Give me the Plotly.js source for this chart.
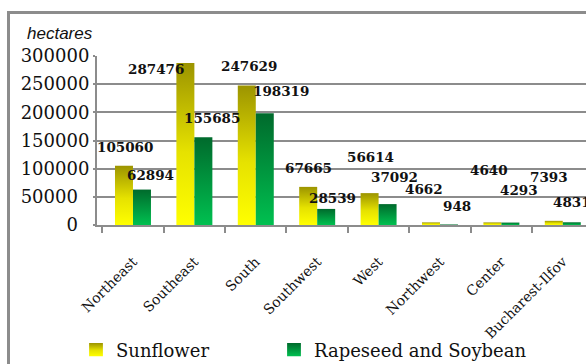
<!DOCTYPE html>
<html>
<head>
<meta charset="utf-8">
<script src="https://cdn.plot.ly/plotly-3.0.1.min.js"></script>
<style>
html,body{margin:0;padding:0;overflow:hidden;background:#fff;}
#wrap{position:relative;width:586px;height:364px;overflow:hidden;}
#chart{position:absolute;left:0;top:0;width:586px;height:364px;}
#frame{position:absolute;left:7px;top:11px;width:700px;height:500px;border:3px solid #8c8c8c;pointer-events:none;}
</style>
</head>
<body>
<div id="wrap"><div id="chart"></div><div id="frame"></div></div>
<script>
// ---- data ----
var regions = ["Northeast","Southeast","South","Southwest","West","Northwest","Center","Bucharest-Ilfov"];
var sunflower = [105060, 287476, 247629, 67665, 56614, 4662, 4640, 7393];
var rapeseedSoybean = [62894, 155685, 198319, 28539, 37092, 948, 4293, 4831];
var yTickVals = [0, 50000, 100000, 150000, 200000, 250000, 300000];
var yTickText = ["0\u2007","50000\u2007","100000","150000","200000","250000","300000"];

// ---- value-label placement offsets (px) ----
var sunLabelDX = [1.5, -29, 2, 0, 1, -7, -3, -5];
var sunLabelDY = [19, -6, 20, 19, 36, 33, 52, 44];
var rapLabelDX = [9, 9, 16, 6, 7, 7.6, 9, 0];
var rapLabelDY = [15, 19, 22, 11, 27.5, 18, 33, 20];

var W = 586, H = 364, ML = 97, MR = 0, MT = 56, MB = 139;
var plotW = W - ML - MR, plotH = H - MT - MB;
function pxX(px){ return (px - ML) / plotW; }
function pxY(py){ return (H - MB - py) / plotH; }

var gray = '#8c8c8c';
var halfBar = 9;
var valFont = {family: 'DejaVu Serif', size: 13.5, color: '#111', weight: 'bold'};

var annotations = [];
regions.forEach(function(r, i){
  annotations.push({x: r, y: sunflower[i], xref: 'x', yref: 'y', text: String(sunflower[i]),
    showarrow: false, xanchor: 'center', yanchor: 'middle',
    xshift: -halfBar + sunLabelDX[i], yshift: sunLabelDY[i], font: valFont});
  annotations.push({x: r, y: rapeseedSoybean[i], xref: 'x', yref: 'y', text: String(rapeseedSoybean[i]),
    showarrow: false, xanchor: 'center', yanchor: 'middle',
    xshift: halfBar + rapLabelDX[i], yshift: rapLabelDY[i], font: valFont});
});
annotations.push({x: pxX(60), y: pxY(33), xref: 'paper', yref: 'paper', text: 'hectares',
  showarrow: false, xanchor: 'center', yanchor: 'middle',
  font: {family: 'Liberation Sans', size: 17, color: '#111', style: 'italic'}});

var data = [
  {type: 'bar', name: 'Sunflower', x: regions, y: sunflower, legend: 'legend',
   marker: {color: '#d8d400', line: {width: 0}}, hoverinfo: 'none'},
  {type: 'bar', name: 'Rapeseed and Soybean', x: regions, y: rapeseedSoybean, legend: 'legend2',
   marker: {color: '#009040', line: {width: 0}}, hoverinfo: 'none'}
];

var legFont = {family: 'DejaVu Serif', size: 18, color: '#111'};
var layout = {
  width: W, height: H,
  margin: {l: ML, r: MR, t: MT, b: MB, pad: 0, autoexpand: false},
  paper_bgcolor: 'rgba(0,0,0,0)', plot_bgcolor: 'rgba(0,0,0,0)',
  barmode: 'group', bargap: 0.414, bargroupgap: 0,
  showlegend: true,
  legend: {orientation: 'h', x: pxX(76), y: pxY(350), xanchor: 'left', yanchor: 'middle',
    font: legFont, bgcolor: 'rgba(0,0,0,0)', borderwidth: 0},
  legend2: {orientation: 'h', x: pxX(274), y: pxY(350), xanchor: 'left', yanchor: 'middle',
    font: legFont, bgcolor: 'rgba(0,0,0,0)', borderwidth: 0},
  xaxis: {type: 'category', range: [-0.586, 7.378], automargin: false,
    tickangle: -45, ticklabelstandoff: 21,
    tickfont: {family: 'DejaVu Serif', size: 14, color: '#111'},
    ticks: 'outside', tickson: 'boundaries', ticklen: 6, tickwidth: 2, tickcolor: gray,
    showline: true, linecolor: gray, linewidth: 2, showgrid: false, zeroline: false, fixedrange: true},
  yaxis: {range: [0, 300000], tickmode: 'array', tickvals: yTickVals, ticktext: yTickText,
    ticks: 'outside', ticklen: 2, tickwidth: 2, tickcolor: gray, automargin: false,
    showline: true, linecolor: gray, linewidth: 2,
    showgrid: true, gridcolor: gray, gridwidth: 2, zeroline: false,
    tickfont: {family: 'DejaVu Serif', size: 18, color: '#111'}, fixedrange: true},
  annotations: annotations
};

var gd = document.getElementById('chart');
Plotly.newPlot(gd, data, layout, {staticPlot: true, displayModeBar: false}).then(function(){
  var ns = 'http://www.w3.org/2000/svg';
  var svg = gd.querySelector('svg.main-svg');
  var defs = svg.querySelector('defs');
  function grad(id, stops){
    var g = document.createElementNS(ns, 'linearGradient');
    g.setAttribute('id', id);
    g.setAttribute('x1', '0'); g.setAttribute('y1', '0');
    g.setAttribute('x2', '0'); g.setAttribute('y2', '1');
    stops.forEach(function(s){
      var st = document.createElementNS(ns, 'stop');
      st.setAttribute('offset', s[0]); st.setAttribute('stop-color', s[1]);
      g.appendChild(st);
    });
    defs.appendChild(g);
  }
  grad('gSun', [[0, '#9c9400'], [0.55, '#e6e200'], [1, '#ffff00']]);
  grad('gRap', [[0, '#006a2c'], [1, '#00c050']]);
  var fills = ['url(#gSun)', 'url(#gRap)'];
  gd.querySelectorAll('.barlayer .trace').forEach(function(t, i){
    t.querySelectorAll('path').forEach(function(p){ p.style.fill = fills[i]; });
  });
  gd.querySelectorAll('.infolayer .traces').forEach(function(t){
    var d = t.__data__;
    var idx = (d && d[0] && d[0].trace) ? d[0].trace.index : 0;
    t.querySelectorAll('.legendpoints path').forEach(function(p){
      p.style.fill = fills[idx];
      var old = p.getAttribute('transform') || '';
      p.setAttribute('transform', old + ' scale(1.15,1.1)');
    });
  });
});
</script>
</body>
</html>
